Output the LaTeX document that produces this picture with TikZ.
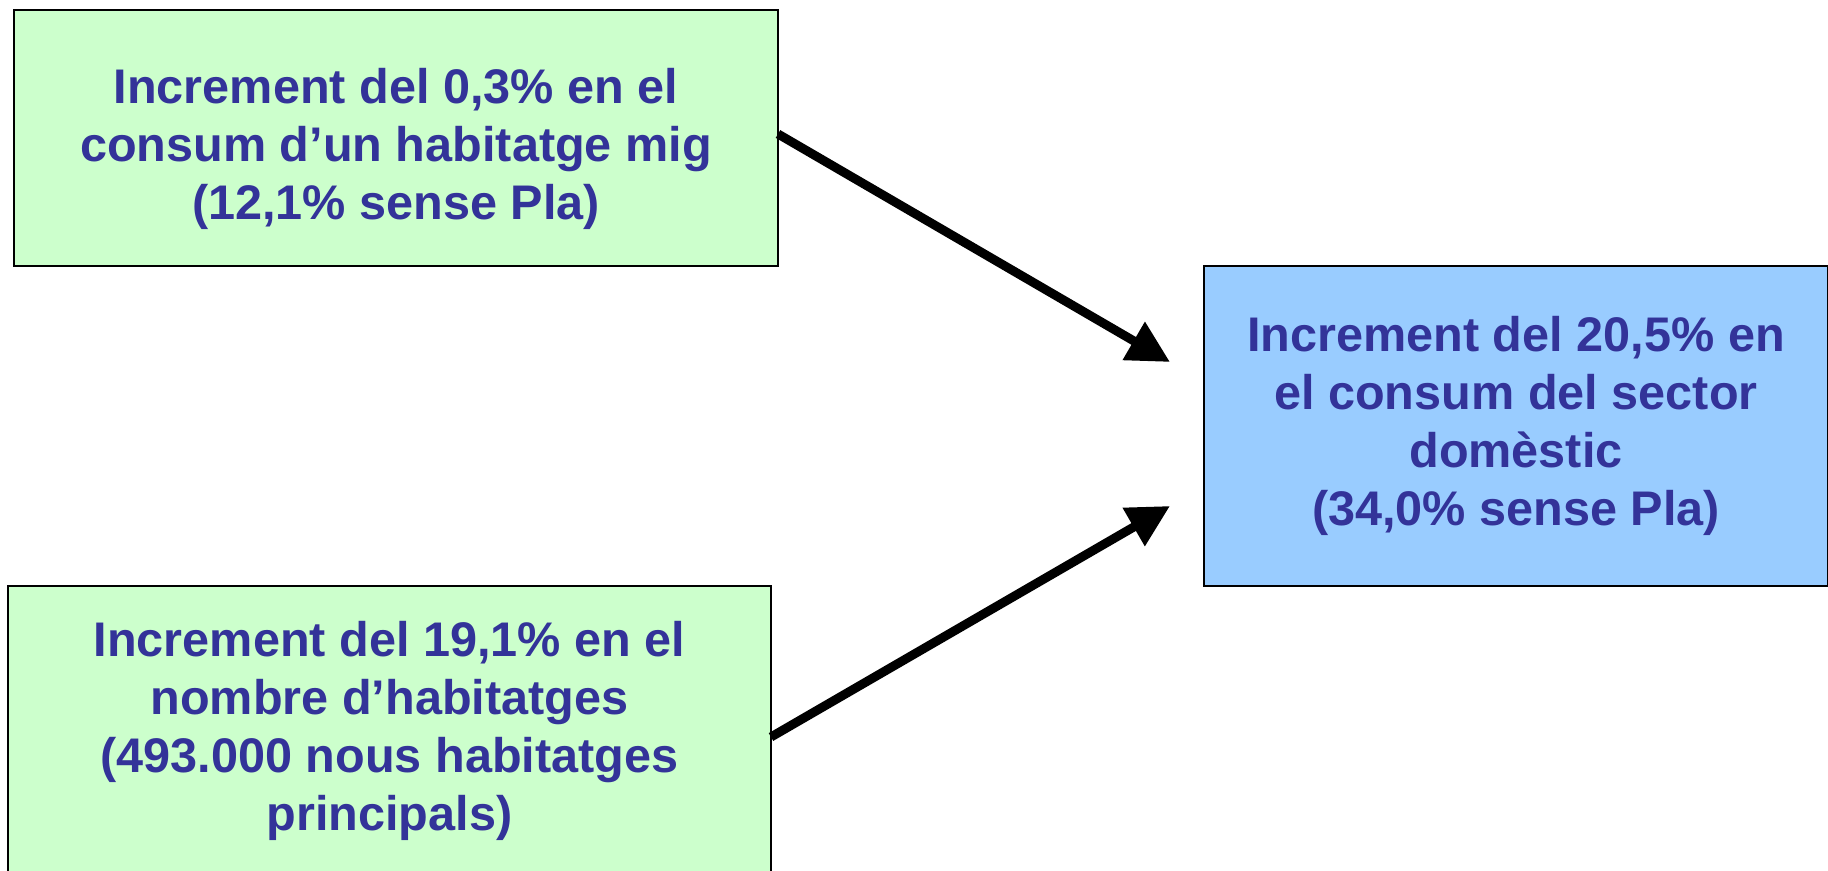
\documentclass[tikz,border=0pt]{standalone}
\usepackage{fontspec}
\setmainfont{Liberation Sans}
\usepackage{tikz}
\usetikzlibrary{calc,arrows.meta}
\definecolor{verd}{HTML}{CCFFCC}
\definecolor{blau}{HTML}{99CCFF}
\definecolor{tinta}{HTML}{333399}

\begin{document}
\begin{tikzpicture}[x=1pt,y=1pt,
        caixa/.style={draw=black, line width=2pt, inner sep=0pt, outer sep=0pt,
            align=center, text=tinta, font=\fontsize{48.6}{58}\selectfont\bfseries},
        fletxa/.style={line width=9pt, -{Triangle[length=42pt,width=42pt]}}]
        % pagina 1828 x 870
        \useasboundingbox (0,0) rectangle (1828,870);

        % Caixes (el text de la primera baixa una mica)
        \node[caixa, fill=verd, minimum width=764pt, minimum height=256pt] (consum) at (396,732)
            {\rule{0pt}{57pt}Increment del 0,3\% en el\\consum d’un habitatge mig\\(12,1\% sense Pla)};
        \node[caixa, fill=verd, minimum width=763pt, minimum height=290pt] (nombre) at (389.5,139)
            {Increment del 19,1\% en el\\nombre d’habitatges\\(493.000 nous habitatges\\principals)};
        \node[caixa, fill=blau, minimum width=624pt, minimum height=320pt] (sector) at (1516,444)
            {Increment del 20,5\% en\\el consum del sector\\domèstic\\(34,0\% sense Pla)};

        % Puntes de les fletxes
        \coordinate (puntaA) at (1170,508);
        \coordinate (puntaB) at (1170,364);

        \draw[fletxa] ([yshift=4pt]consum.east) -- (puntaA);
        \draw[fletxa] ([yshift=-6pt]nombre.east) -- (puntaB);
\end{tikzpicture}
\end{document}
